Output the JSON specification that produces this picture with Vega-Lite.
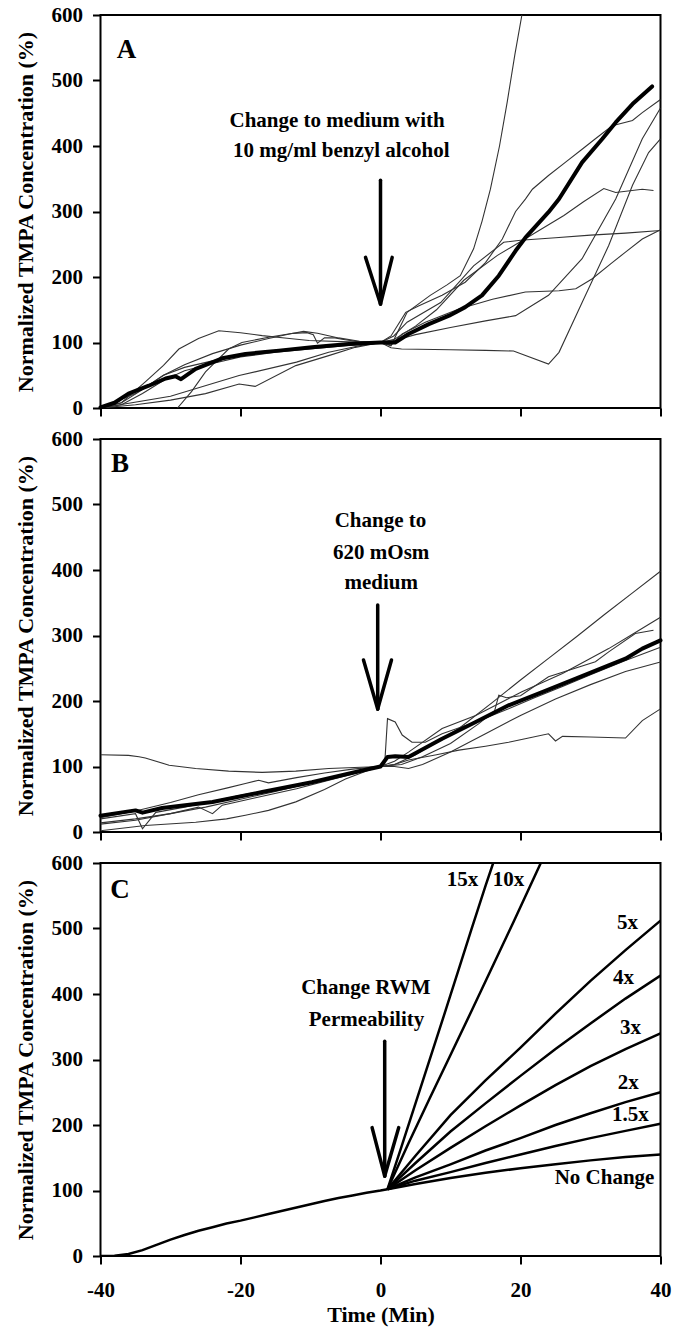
{
  "$schema": "https://vega.github.io/schema/vega-lite/v6.json",
  "background": "white",
  "padding": {"left": 12.5, "top": 3, "right": 4, "bottom": 2},
  "spacing": 31,
  "bounds": "flush",
  "config": {
    "view": {"stroke": "black", "strokeWidth": 2},
    "axis": {"grid": false, "domain": false, "ticks": true, "tickColor": "black", "tickWidth": 2, "tickSize": 8, "labelFont": "Liberation Serif", "labelFontSize": 21, "labelFontWeight": "bold", "labelColor": "black", "labelFlush": false, "labelOverlap": false, "titleFont": "Liberation Serif", "titleFontSize": 22, "titleFontWeight": "bold", "titleColor": "black"},
    "text": {"font": "Liberation Serif", "fontWeight": "bold", "fontSize": 21, "color": "black", "baseline": "alphabetic", "align": "center"}
  },
  "vconcat": [
    {
      "width": 560, "height": 393,
      "layer": [
        {
          "data": {"values": [
            {"s":"a1","x":-40,"y":0},{"s":"a1","x":-37,"y":8},{"s":"a1","x":-33.6,"y":40},{"s":"a1","x":-31,"y":65},{"s":"a1","x":-28.8,"y":90},{"s":"a1","x":-26,"y":106},{"s":"a1","x":-23.1,"y":118},{"s":"a1","x":-20,"y":115},{"s":"a1","x":-16.9,"y":110.5},{"s":"a1","x":-13,"y":106},{"s":"a1","x":-10.2,"y":103},{"s":"a1","x":-4.5,"y":101},{"s":"a1","x":0,"y":100},{"s":"a1","x":1.5,"y":95},{"s":"a1","x":3.8,"y":146},{"s":"a1","x":7.1,"y":172},{"s":"a1","x":9.5,"y":188},{"s":"a1","x":11.4,"y":202},{"s":"a1","x":13.3,"y":243},{"s":"a1","x":14.5,"y":285},{"s":"a1","x":15.7,"y":334},{"s":"a1","x":17,"y":400},{"s":"a1","x":18.1,"y":467},{"s":"a1","x":19.2,"y":540},{"s":"a1","x":20.2,"y":600},
            {"s":"a2","x":-29,"y":0},{"s":"a2","x":-27,"y":25},{"s":"a2","x":-25,"y":55},{"s":"a2","x":-21.7,"y":90},{"s":"a2","x":-19.8,"y":100},{"s":"a2","x":-16,"y":108},{"s":"a2","x":-12.5,"y":114},{"s":"a2","x":-10.5,"y":115},{"s":"a2","x":-9.6,"y":112},{"s":"a2","x":-9,"y":99},{"s":"a2","x":-8,"y":107},{"s":"a2","x":-6.5,"y":107},{"s":"a2","x":-5.5,"y":105},{"s":"a2","x":-3,"y":101},{"s":"a2","x":0,"y":100},{"s":"a2","x":1.5,"y":110},{"s":"a2","x":3.6,"y":146},{"s":"a2","x":5.5,"y":156},{"s":"a2","x":8.8,"y":172},{"s":"a2","x":12.1,"y":192},{"s":"a2","x":15,"y":222},{"s":"a2","x":17.4,"y":258},{"s":"a2","x":19.3,"y":300},{"s":"a2","x":20.7,"y":319},{"s":"a2","x":21.7,"y":334},{"s":"a2","x":24,"y":355},{"s":"a2","x":26.4,"y":375},{"s":"a2","x":28.8,"y":395},{"s":"a2","x":30.7,"y":411},{"s":"a2","x":33.1,"y":431},{"s":"a2","x":36,"y":439},{"s":"a2","x":37.4,"y":451},{"s":"a2","x":40,"y":471},
            {"s":"a3","x":-40,"y":0},{"s":"a3","x":-35,"y":22},{"s":"a3","x":-31,"y":50},{"s":"a3","x":-28,"y":66},{"s":"a3","x":-24,"y":83},{"s":"a3","x":-20,"y":96},{"s":"a3","x":-16,"y":106},{"s":"a3","x":-13,"y":113},{"s":"a3","x":-11,"y":117},{"s":"a3","x":-9,"y":114},{"s":"a3","x":-6,"y":107},{"s":"a3","x":-3,"y":102},{"s":"a3","x":0,"y":100},{"s":"a3","x":2,"y":103},{"s":"a3","x":5,"y":112},{"s":"a3","x":10,"y":123},{"s":"a3","x":15,"y":133},{"s":"a3","x":19.3,"y":141},{"s":"a3","x":24,"y":172},{"s":"a3","x":28.8,"y":228},{"s":"a3","x":33.6,"y":319},{"s":"a3","x":37.4,"y":411},{"s":"a3","x":40,"y":458},
            {"s":"a4","x":-40,"y":0},{"s":"a4","x":-37,"y":8},{"s":"a4","x":-34,"y":28},{"s":"a4","x":-31,"y":50},{"s":"a4","x":-28,"y":62},{"s":"a4","x":-24,"y":72},{"s":"a4","x":-20,"y":80},{"s":"a4","x":-15,"y":87},{"s":"a4","x":-10,"y":93},{"s":"a4","x":-5,"y":97},{"s":"a4","x":0,"y":100},{"s":"a4","x":2,"y":105},{"s":"a4","x":5,"y":125},{"s":"a4","x":8,"y":150},{"s":"a4","x":11.9,"y":195},{"s":"a4","x":16.7,"y":233},{"s":"a4","x":21.4,"y":263},{"s":"a4","x":26.2,"y":294},{"s":"a4","x":29,"y":315},{"s":"a4","x":31.9,"y":335},{"s":"a4","x":33.6,"y":329},{"s":"a4","x":37.4,"y":334},{"s":"a4","x":39,"y":332},
            {"s":"a5","x":-40,"y":0},{"s":"a5","x":-37,"y":5},{"s":"a5","x":-34,"y":22},{"s":"a5","x":-31,"y":42},{"s":"a5","x":-28,"y":57},{"s":"a5","x":-24,"y":68},{"s":"a5","x":-20,"y":78},{"s":"a5","x":-15,"y":85},{"s":"a5","x":-10,"y":90},{"s":"a5","x":-5,"y":95},{"s":"a5","x":0,"y":100},{"s":"a5","x":1.5,"y":96},{"s":"a5","x":3.1,"y":113},{"s":"a5","x":6.4,"y":131},{"s":"a5","x":11.2,"y":151},{"s":"a5","x":16,"y":166},{"s":"a5","x":20.7,"y":177},{"s":"a5","x":25.5,"y":179},{"s":"a5","x":27.9,"y":182},{"s":"a5","x":30.2,"y":197},{"s":"a5","x":33.1,"y":222},{"s":"a5","x":35,"y":238},{"s":"a5","x":37.4,"y":258},{"s":"a5","x":40,"y":272},
            {"s":"a6","x":-40,"y":0},{"s":"a6","x":-30,"y":18},{"s":"a6","x":-20.2,"y":49.5},{"s":"a6","x":-12,"y":70},{"s":"a6","x":-7.4,"y":85},{"s":"a6","x":-3,"y":95},{"s":"a6","x":0,"y":100},{"s":"a6","x":1.9,"y":110},{"s":"a6","x":3.8,"y":131},{"s":"a6","x":8.6,"y":161},{"s":"a6","x":13.3,"y":217},{"s":"a6","x":17.6,"y":253},{"s":"a6","x":20,"y":256},{"s":"a6","x":25,"y":260},{"s":"a6","x":30,"y":264},{"s":"a6","x":35,"y":267},{"s":"a6","x":40,"y":271},
            {"s":"a7","x":-40,"y":0},{"s":"a7","x":-35,"y":5},{"s":"a7","x":-30,"y":12},{"s":"a7","x":-25,"y":22},{"s":"a7","x":-20.2,"y":36.7},{"s":"a7","x":-17.9,"y":33},{"s":"a7","x":-12.1,"y":64.7},{"s":"a7","x":-7.4,"y":80},{"s":"a7","x":-3.6,"y":92.6},{"s":"a7","x":0,"y":100},{"s":"a7","x":1.5,"y":92},{"s":"a7","x":3,"y":90},{"s":"a7","x":10,"y":89},{"s":"a7","x":15,"y":88},{"s":"a7","x":19,"y":87},{"s":"a7","x":24,"y":67},{"s":"a7","x":25.5,"y":85},{"s":"a7","x":28.8,"y":161},{"s":"a7","x":32.6,"y":248},{"s":"a7","x":36,"y":340},{"s":"a7","x":38.3,"y":390},{"s":"a7","x":40,"y":411}
          ]},
          "mark": {"type": "line", "color": "#333333", "strokeWidth": 1.1, "clip": true},
          "encoding": {
            "x": {"field": "x", "type": "quantitative", "scale": {"domain": [-40, 40], "nice": false, "zero": false}, "axis": {"values": [-40, -20, 0, 20, 40], "labels": false, "title": null}},
            "y": {"field": "y", "type": "quantitative", "scale": {"domain": [0, 600], "nice": false}, "axis": {"values": [0, 100, 200, 300, 400, 500, 600], "labelPadding": 10, "titlePadding": 14, "title": "Normalized TMPA Concentration (%)"}},
            "detail": {"field": "s"}
          }
        },
        {
          "data": {"values": [
            {"x":-40,"y":1},{"x":-38,"y":8},{"x":-36,"y":22},{"x":-33.1,"y":34},{"x":-30.7,"y":45},{"x":-29.3,"y":48.4},{"x":-28.5,"y":44},{"x":-26.4,"y":59.6},{"x":-22.6,"y":75.9},{"x":-19.3,"y":82.5},{"x":-14.5,"y":87.6},{"x":-9.8,"y":92.7},{"x":-4.5,"y":97.7},{"x":0,"y":100},{"x":2.1,"y":100},{"x":4,"y":113},{"x":6.9,"y":128},{"x":9.8,"y":141},{"x":12.1,"y":154},{"x":14.5,"y":172},{"x":16.9,"y":202},{"x":19.3,"y":240},{"x":20.7,"y":260},{"x":24,"y":299},{"x":25.5,"y":319},{"x":28.8,"y":375},{"x":31.7,"y":411},{"x":33.6,"y":436},{"x":36,"y":464},{"x":38.8,"y":491}
          ]},
          "mark": {"type": "line", "color": "black", "strokeWidth": 4, "strokeJoin": "round", "strokeCap": "round"},
          "encoding": {"x": {"field": "x", "type": "quantitative"}, "y": {"field": "y", "type": "quantitative"}}
        },
        {
          "data": {"values": [
            {"x":0,"y":347.6,"x2":0,"y2":158.8},{"x":-2.14,"y":230,"x2":0,"y2":158.8},{"x":1.67,"y":230,"x2":0,"y2":158.8}
          ]},
          "mark": {"type": "rule", "color": "black", "strokeWidth": 3.5, "strokeCap": "round"},
          "encoding": {"x": {"field": "x", "type": "quantitative"}, "y": {"field": "y", "type": "quantitative"}, "x2": {"field": "x2"}, "y2": {"field": "y2"}}
        },
        {
          "data": {"values": [
            {"x":-6.2,"y":428.5,"t":"Change to medium with"},{"x":-5.6,"y":382.8,"t":"10 mg/ml benzyl alcohol"}
          ]},
          "mark": {"type": "text"},
          "encoding": {"x": {"field": "x", "type": "quantitative"}, "y": {"field": "y", "type": "quantitative"}, "text": {"field": "t"}}
        },
        {
          "data": {"values": [{"x":-36.3,"y":535,"t":"A"}]},
          "mark": {"type": "text", "fontSize": 27},
          "encoding": {"x": {"field": "x", "type": "quantitative"}, "y": {"field": "y", "type": "quantitative"}, "text": {"field": "t"}}
        }
      ]
    },
    {
      "width": 560, "height": 393,
      "layer": [
        {
          "data": {"values": [
            {"s":"b1","x":-40,"y":118},{"s":"b1","x":-36,"y":117},{"s":"b1","x":-34.5,"y":115},{"s":"b1","x":-33.6,"y":113},{"s":"b1","x":-30.2,"y":102},{"s":"b1","x":-26.4,"y":97},{"s":"b1","x":-21.7,"y":93},{"s":"b1","x":-16.9,"y":91},{"s":"b1","x":-12.1,"y":93},{"s":"b1","x":-7.4,"y":97},{"s":"b1","x":0,"y":100},{"s":"b1","x":0.6,"y":104},{"s":"b1","x":1,"y":173},{"s":"b1","x":2.1,"y":168},{"s":"b1","x":3.1,"y":148},{"s":"b1","x":4.5,"y":137},{"s":"b1","x":6.4,"y":137},{"s":"b1","x":8.8,"y":150},{"s":"b1","x":13.6,"y":168},{"s":"b1","x":18.3,"y":188},{"s":"b1","x":22,"y":205},{"s":"b1","x":26,"y":222},{"s":"b1","x":30,"y":240},{"s":"b1","x":35,"y":262},{"s":"b1","x":40,"y":282},
            {"s":"b2","x":-40,"y":20},{"s":"b2","x":-35,"y":28},{"s":"b2","x":-34,"y":5},{"s":"b2","x":-32.1,"y":30},{"s":"b2","x":-28,"y":38},{"s":"b2","x":-24,"y":47},{"s":"b2","x":-20,"y":56},{"s":"b2","x":-15,"y":66},{"s":"b2","x":-10,"y":76},{"s":"b2","x":-5,"y":88},{"s":"b2","x":0,"y":100},{"s":"b2","x":2,"y":103},{"s":"b2","x":5,"y":118},{"s":"b2","x":8,"y":138},{"s":"b2","x":11.2,"y":158},{"s":"b2","x":16,"y":198},{"s":"b2","x":20,"y":232},{"s":"b2","x":24,"y":265},{"s":"b2","x":28,"y":298},{"s":"b2","x":32,"y":332},{"s":"b2","x":36,"y":365},{"s":"b2","x":40,"y":398},
            {"s":"b3","x":-40,"y":14},{"s":"b3","x":-35,"y":20},{"s":"b3","x":-30,"y":28},{"s":"b3","x":-26,"y":38},{"s":"b3","x":-24,"y":28},{"s":"b3","x":-22.6,"y":41},{"s":"b3","x":-18,"y":52},{"s":"b3","x":-12,"y":66},{"s":"b3","x":-6,"y":83},{"s":"b3","x":0,"y":100},{"s":"b3","x":2,"y":108},{"s":"b3","x":4,"y":122},{"s":"b3","x":8.8,"y":158},{"s":"b3","x":13.6,"y":178},{"s":"b3","x":20.2,"y":214},{"s":"b3","x":26,"y":242},{"s":"b3","x":32.6,"y":280},{"s":"b3","x":36,"y":302},{"s":"b3","x":40,"y":328},
            {"s":"b4","x":-40,"y":22},{"s":"b4","x":-35,"y":32},{"s":"b4","x":-30,"y":45},{"s":"b4","x":-26,"y":57},{"s":"b4","x":-22,"y":67},{"s":"b4","x":-19.3,"y":74},{"s":"b4","x":-17.4,"y":79},{"s":"b4","x":-16,"y":75},{"s":"b4","x":-12,"y":83},{"s":"b4","x":-8,"y":90},{"s":"b4","x":-4,"y":96},{"s":"b4","x":0,"y":100},{"s":"b4","x":3,"y":103},{"s":"b4","x":6,"y":115},{"s":"b4","x":10,"y":135},{"s":"b4","x":14,"y":165},{"s":"b4","x":16.3,"y":185},{"s":"b4","x":16.9,"y":209},{"s":"b4","x":18,"y":205},{"s":"b4","x":20,"y":208},{"s":"b4","x":24,"y":237},{"s":"b4","x":30.7,"y":260},{"s":"b4","x":32.6,"y":275},{"s":"b4","x":36.4,"y":303},{"s":"b4","x":39,"y":308},
            {"s":"b5","x":-40,"y":12},{"s":"b5","x":-35,"y":18},{"s":"b5","x":-30,"y":28},{"s":"b5","x":-25,"y":38},{"s":"b5","x":-20,"y":50},{"s":"b5","x":-15,"y":62},{"s":"b5","x":-10,"y":75},{"s":"b5","x":-5,"y":88},{"s":"b5","x":0,"y":100},{"s":"b5","x":2,"y":100},{"s":"b5","x":4,"y":97},{"s":"b5","x":6,"y":103},{"s":"b5","x":10,"y":122},{"s":"b5","x":15,"y":150},{"s":"b5","x":20,"y":178},{"s":"b5","x":25,"y":203},{"s":"b5","x":30,"y":225},{"s":"b5","x":35,"y":245},{"s":"b5","x":40,"y":259.5},
            {"s":"b6","x":-40,"y":2},{"s":"b6","x":-33.6,"y":10},{"s":"b6","x":-26.4,"y":15},{"s":"b6","x":-22,"y":20},{"s":"b6","x":-19.3,"y":25.5},{"s":"b6","x":-16,"y":33},{"s":"b6","x":-12.1,"y":46},{"s":"b6","x":-8,"y":65},{"s":"b6","x":-5,"y":81},{"s":"b6","x":-2,"y":93},{"s":"b6","x":0,"y":100},{"s":"b6","x":2,"y":103},{"s":"b6","x":4,"y":110},{"s":"b6","x":8,"y":118},{"s":"b6","x":11.2,"y":125},{"s":"b6","x":15,"y":131},{"s":"b6","x":18.3,"y":137},{"s":"b6","x":21,"y":143},{"s":"b6","x":24,"y":150},{"s":"b6","x":25,"y":139},{"s":"b6","x":26,"y":146},{"s":"b6","x":30,"y":145},{"s":"b6","x":35,"y":143.5},{"s":"b6","x":37.4,"y":170},{"s":"b6","x":40,"y":188}
          ]},
          "mark": {"type": "line", "color": "#333333", "strokeWidth": 1.1, "clip": true},
          "encoding": {
            "x": {"field": "x", "type": "quantitative", "scale": {"domain": [-40, 40], "nice": false, "zero": false}, "axis": {"values": [-40, -20, 0, 20, 40], "labels": false, "title": null}},
            "y": {"field": "y", "type": "quantitative", "scale": {"domain": [0, 600], "nice": false}, "axis": {"values": [0, 100, 200, 300, 400, 500, 600], "labelPadding": 10, "titlePadding": 14, "title": "Normalized TMPA Concentration (%)"}},
            "detail": {"field": "s"}
          }
        },
        {
          "data": {"values": [
            {"x":-40,"y":25},{"x":-35,"y":33},{"x":-34,"y":29.5},{"x":-31.2,"y":36.6},{"x":-24,"y":45.8},{"x":-16.9,"y":61},{"x":-9.8,"y":76},{"x":-2.6,"y":94},{"x":0,"y":100},{"x":1,"y":114.5},{"x":2.1,"y":115.6},{"x":4,"y":114.5},{"x":8.8,"y":142.4},{"x":13.6,"y":168},{"x":18.3,"y":193.4},{"x":23.1,"y":213.7},{"x":27.9,"y":234},{"x":32.6,"y":254.5},{"x":35,"y":264.6},{"x":37.4,"y":280},{"x":40,"y":292.6}
          ]},
          "mark": {"type": "line", "color": "black", "strokeWidth": 4, "strokeJoin": "round", "strokeCap": "round"},
          "encoding": {"x": {"field": "x", "type": "quantitative"}, "y": {"field": "y", "type": "quantitative"}}
        },
        {
          "data": {"values": [
            {"x":-0.4,"y":346.6,"x2":-0.4,"y2":187.8},{"x":-2.43,"y":262.6,"x2":-0.4,"y2":187.8},{"x":1.57,"y":262.6,"x2":-0.4,"y2":187.8}
          ]},
          "mark": {"type": "rule", "color": "black", "strokeWidth": 3.5, "strokeCap": "round"},
          "encoding": {"x": {"field": "x", "type": "quantitative"}, "y": {"field": "y", "type": "quantitative"}, "x2": {"field": "x2"}, "y2": {"field": "y2"}}
        },
        {
          "data": {"values": [
            {"x":0,"y":465.6,"t":"Change to"},{"x":0.1,"y":416.8,"t":"620 mOsm"},{"x":0.1,"y":371,"t":"medium"}
          ]},
          "mark": {"type": "text"},
          "encoding": {"x": {"field": "x", "type": "quantitative"}, "y": {"field": "y", "type": "quantitative"}, "text": {"field": "t"}}
        },
        {
          "data": {"values": [{"x":-37.2,"y":549,"t":"B"}]},
          "mark": {"type": "text", "fontSize": 27},
          "encoding": {"x": {"field": "x", "type": "quantitative"}, "y": {"field": "y", "type": "quantitative"}, "text": {"field": "t"}}
        }
      ]
    },
    {
      "width": 560, "height": 393,
      "layer": [
        {
          "data": {"values": [
            {"s":"base","x":-40,"y":0},{"s":"base","x":-38,"y":0.5},{"s":"base","x":-36,"y":3},{"s":"base","x":-34,"y":9},{"s":"base","x":-32,"y":17},{"s":"base","x":-30,"y":25},{"s":"base","x":-28,"y":32},{"s":"base","x":-26,"y":38.5},{"s":"base","x":-24,"y":44},{"s":"base","x":-22,"y":49.5},{"s":"base","x":-20,"y":54},{"s":"base","x":-18,"y":59},{"s":"base","x":-16,"y":64},{"s":"base","x":-14,"y":69},{"s":"base","x":-12,"y":74},{"s":"base","x":-10,"y":79},{"s":"base","x":-8,"y":84},{"s":"base","x":-6,"y":88.5},{"s":"base","x":-4,"y":92.5},{"s":"base","x":-2,"y":96.5},{"s":"base","x":0,"y":100},{"s":"base","x":1,"y":102},
            {"s":"No Change","x":1,"y":102},{"s":"No Change","x":5,"y":110},{"s":"No Change","x":10,"y":119},{"s":"No Change","x":15,"y":127},{"s":"No Change","x":20,"y":134},{"s":"No Change","x":25,"y":140},{"s":"No Change","x":30,"y":146},{"s":"No Change","x":35,"y":151},{"s":"No Change","x":40,"y":155},
            {"s":"1.5x","x":1,"y":102},{"s":"1.5x","x":5,"y":115},{"s":"1.5x","x":10,"y":128},{"s":"1.5x","x":15,"y":142},{"s":"1.5x","x":20,"y":155},{"s":"1.5x","x":25,"y":168},{"s":"1.5x","x":30,"y":180},{"s":"1.5x","x":35,"y":191},{"s":"1.5x","x":40,"y":202},
            {"s":"2x","x":1,"y":102},{"s":"2x","x":5,"y":120},{"s":"2x","x":10,"y":140},{"s":"2x","x":15,"y":161},{"s":"2x","x":20,"y":180},{"s":"2x","x":25,"y":200},{"s":"2x","x":30,"y":218},{"s":"2x","x":35,"y":235},{"s":"2x","x":40,"y":250},
            {"s":"3x","x":1,"y":102},{"s":"3x","x":5,"y":131},{"s":"3x","x":10,"y":165},{"s":"3x","x":15,"y":198},{"s":"3x","x":20,"y":230},{"s":"3x","x":25,"y":261},{"s":"3x","x":30,"y":290},{"s":"3x","x":35,"y":316},{"s":"3x","x":40,"y":340},
            {"s":"4x","x":1,"y":102},{"s":"4x","x":5,"y":142},{"s":"4x","x":10,"y":190},{"s":"4x","x":15,"y":233},{"s":"4x","x":20,"y":275},{"s":"4x","x":25,"y":316},{"s":"4x","x":30,"y":355},{"s":"4x","x":35,"y":393},{"s":"4x","x":40,"y":428},
            {"s":"5x","x":1,"y":102},{"s":"5x","x":5,"y":153},{"s":"5x","x":10,"y":215},{"s":"5x","x":15,"y":268},{"s":"5x","x":20,"y":318},{"s":"5x","x":25,"y":370},{"s":"5x","x":30,"y":420},{"s":"5x","x":35,"y":467},{"s":"5x","x":40,"y":512},
            {"s":"10x","x":1,"y":102},{"s":"10x","x":4,"y":172},{"s":"10x","x":7,"y":240},{"s":"10x","x":10,"y":307},{"s":"10x","x":13,"y":374},{"s":"10x","x":16,"y":442},{"s":"10x","x":19,"y":510},{"s":"10x","x":22.9,"y":600},
            {"s":"15x","x":1,"y":102},{"s":"15x","x":3,"y":167},{"s":"15x","x":5,"y":233},{"s":"15x","x":7,"y":299},{"s":"15x","x":9,"y":365},{"s":"15x","x":11,"y":432},{"s":"15x","x":13,"y":499},{"s":"15x","x":15,"y":565},{"s":"15x","x":16.1,"y":600}
          ]},
          "mark": {"type": "line", "color": "black", "strokeWidth": 2.5, "clip": true},
          "encoding": {
            "x": {"field": "x", "type": "quantitative", "scale": {"domain": [-40, 40], "nice": false, "zero": false}, "axis": {"values": [-40, -20, 0, 20, 40], "labelExpr": "replace(datum.label, '\u2212', '-')", "labelPadding": 15, "titlePadding": 4, "title": "Time (Min)"}},
            "y": {"field": "y", "type": "quantitative", "scale": {"domain": [0, 600], "nice": false}, "axis": {"values": [0, 100, 200, 300, 400, 500, 600], "labelPadding": 10, "titlePadding": 14, "title": "Normalized TMPA Concentration (%)"}},
            "detail": {"field": "s"}
          }
        },
        {
          "data": {"values": [
            {"x":0.6,"y":328,"x2":0.6,"y2":122},{"x":-1.2,"y":196,"x2":0.6,"y2":122},{"x":2.6,"y":196,"x2":0.6,"y2":122}
          ]},
          "mark": {"type": "rule", "color": "black", "strokeWidth": 3.5, "strokeCap": "round"},
          "encoding": {"x": {"field": "x", "type": "quantitative"}, "y": {"field": "y", "type": "quantitative"}, "x2": {"field": "x2"}, "y2": {"field": "y2"}}
        },
        {
          "data": {"values": [
            {"x":-2.1,"y":400,"t":"Change RWM"},{"x":-2.0,"y":351,"t":"Permeability"},
            {"x":11.7,"y":565,"t":"15x"},{"x":18.3,"y":565,"t":"10x"},{"x":35.3,"y":499,"t":"5x"},{"x":34.7,"y":415,"t":"4x"},{"x":35.7,"y":339,"t":"3x"},{"x":35.4,"y":255,"t":"2x"},{"x":35.7,"y":206,"t":"1.5x"},{"x":32,"y":110,"t":"No Change"}
          ]},
          "mark": {"type": "text"},
          "encoding": {"x": {"field": "x", "type": "quantitative"}, "y": {"field": "y", "type": "quantitative"}, "text": {"field": "t"}}
        },
        {
          "data": {"values": [{"x":-37.2,"y":547,"t":"C"}]},
          "mark": {"type": "text", "fontSize": 27},
          "encoding": {"x": {"field": "x", "type": "quantitative"}, "y": {"field": "y", "type": "quantitative"}, "text": {"field": "t"}}
        }
      ]
    }
  ]
}
